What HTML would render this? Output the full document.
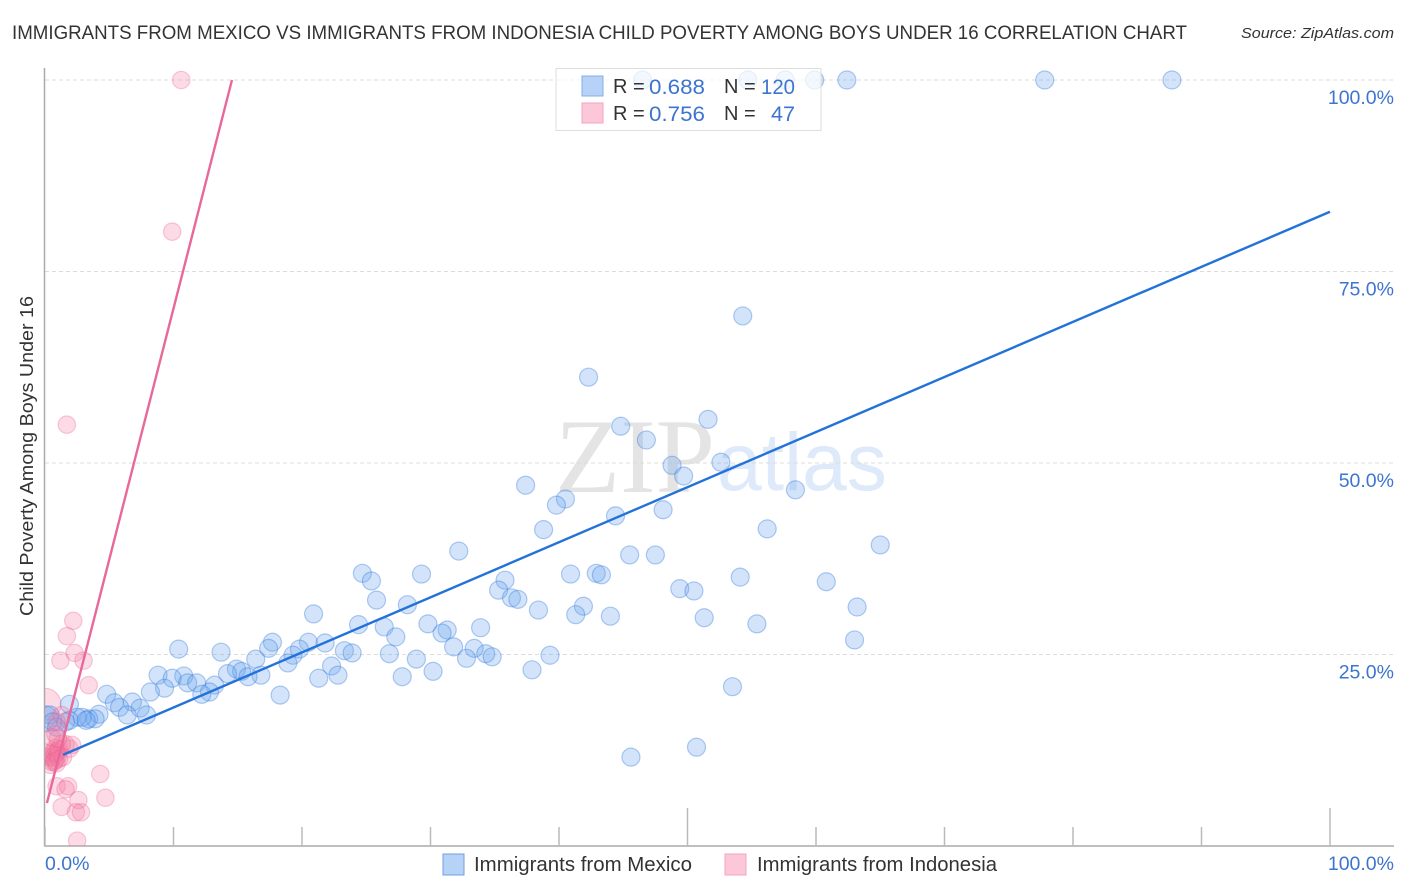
<!DOCTYPE html>
<html lang="en">
<head>
<meta charset="utf-8">
<title>Immigrants from Mexico vs Immigrants from Indonesia Correlation Chart</title>
<style>
html,body{margin:0;padding:0;background:#fff;}
svg{display:block;font-family:"Liberation Sans",sans-serif;}
</style>
</head>
<body>
<svg id="chart" xmlns="http://www.w3.org/2000/svg" width="1406" height="892" viewBox="0 0 1406 892">
  <defs>
    <clipPath id="plot-clip"><rect x="45" y="60" width="1349" height="786"/></clipPath>
  </defs>
  <rect x="0" y="0" width="1406" height="892" fill="#ffffff"/>
  <text x="12" y="39" font-size="19.5" fill="#333333" textLength="1175" lengthAdjust="spacingAndGlyphs">IMMIGRANTS FROM MEXICO VS IMMIGRANTS FROM INDONESIA CHILD POVERTY AMONG BOYS UNDER 16 CORRELATION CHART</text>
  <text x="1241" y="38" font-size="15" font-style="italic" fill="#333333" textLength="153" lengthAdjust="spacingAndGlyphs">Source: ZipAtlas.com</text>
  <text x="555" y="492" font-size="106" font-family="'Liberation Serif',serif" fill="#e4e4e4" textLength="160" lengthAdjust="spacingAndGlyphs">ZIP</text>
  <text x="717" y="490" font-size="82" font-family="'Liberation Sans',sans-serif" fill="#deE9fa" textLength="170" lengthAdjust="spacingAndGlyphs">atlas</text>
  <g id="grid-layer"></g>
  <g id="axis-layer"></g>
  <g id="point-layer" clip-path="url(#plot-clip)"></g>
  <g id="trend-layer"></g>
  <text transform="translate(33,456) rotate(-90)" text-anchor="middle" font-size="18" fill="#333333" textLength="320" lengthAdjust="spacingAndGlyphs">Child Poverty Among Boys Under 16</text>

  <g>
    <rect x="556" y="68.5" width="265" height="62" fill="#ffffff" fill-opacity="0.72" stroke="#dddddd" stroke-width="1"/>
    <rect x="582" y="76" width="21" height="20" fill="#b6d2f7" stroke="#85afe9" stroke-width="1"/>
    <rect x="582" y="103" width="21" height="20" fill="#fcc8d9" stroke="#f2a5bd" stroke-width="1"/>
    <text x="613" y="93" font-size="20" fill="#333333">R =</text>
    <text x="649" y="94" font-size="21.5" fill="#3d74d0" textLength="56" lengthAdjust="spacingAndGlyphs">0.688</text>
    <text x="724" y="93" font-size="20" fill="#333333">N =</text>
    <text x="761" y="94" font-size="21.5" fill="#3d74d0" textLength="34" lengthAdjust="spacingAndGlyphs">120</text>
    <text x="613" y="120" font-size="20" fill="#333333">R =</text>
    <text x="649" y="121" font-size="21.5" fill="#3d74d0" textLength="56" lengthAdjust="spacingAndGlyphs">0.756</text>
    <text x="724" y="120" font-size="20" fill="#333333">N =</text>
    <text x="771" y="121" font-size="21.5" fill="#3d74d0" textLength="24" lengthAdjust="spacingAndGlyphs">47</text>
  </g>

  <g>
    <rect x="443" y="854" width="21" height="21" fill="#b6d2f7" stroke="#6fa0e4" stroke-width="1"/>
    <text x="474" y="871" font-size="20" fill="#333333" textLength="218" lengthAdjust="spacingAndGlyphs">Immigrants from Mexico</text>
    <rect x="725" y="854" width="21" height="21" fill="#fcc8d9" stroke="#f2a5bd" stroke-width="1"/>
    <text x="757" y="871" font-size="20" fill="#333333" textLength="240" lengthAdjust="spacingAndGlyphs">Immigrants from Indonesia</text>
  </g>
</svg>

<script>
var xTickValues = [0, 10, 20, 30, 40, 50, 60, 70, 80, 90, 100];
var yTickValues = [25, 50, 75, 100];
var yTickLabels = ['25.0%', '50.0%', '75.0%', '100.0%'];
var xEndLabels = ['0.0%', '100.0%'];
var xEndValues = [0, 100];

var mexicoX = [46.5,54.7,57.6,59.9,62.4,77.8,87.7,
  54.3,42.3,51.6,44.8,46.8,48.8,52.6,49.7,37.4,58.4,40.5,39.8,48.1,44.4,
  38.8,56.2,65.0,32.2,45.5,47.5,24.7,29.3,40.9,42.9,43.3,54.1,25.4,35.8,60.8,
  35.3,49.4,50.5,25.8,36.3,36.8,28.2,41.9,63.2,38.4,20.9,41.3,44.0,51.3,29.8,
  24.4,26.4,55.4,33.9,31.3,30.9,27.3,63.0,20.5,21.8,17.7,17.4,10.4,19.8,23.3,
  13.7,23.9,26.8,31.8,33.4,34.3,39.3,34.8,32.8,19.3,16.4,28.9,18.9,22.3,14.9,
  30.2,15.3,37.9,8.8,22.8,21.3,27.8,16.8,15.8,14.2,10.8,9.9,11.1,11.8,13.2,
  9.3,53.5,8.2,12.8,12.2,18.3,4.8,6.8,5.4,5.8,1.9,7.4,6.4,7.9,4.2,
  3.4,3.9,2.9,2.5,1.9,3.2,1.6,0.4,0.6,0.9,45.6,50.7];
var mexicoY = [100,100,100,100,100,100,100,
  69.2,61.2,55.7,54.8,53.0,49.7,50.1,48.3,47.1,46.5,45.3,44.5,43.9,43.1,
  41.3,41.4,39.3,38.5,38.0,38.0,35.6,35.5,35.5,35.6,35.4,35.1,34.6,34.7,34.5,
  33.4,33.6,33.3,32.1,32.4,32.2,31.5,31.3,31.2,30.8,30.3,30.2,30.0,29.8,29.0,
  28.9,28.6,29.0,28.5,28.2,27.8,27.3,26.9,26.6,26.5,26.6,25.8,25.7,25.7,25.5,
  25.3,25.2,25.1,26.0,25.8,25.1,24.9,24.7,24.5,24.9,24.4,24.4,23.9,23.5,23.1,
  22.8,22.8,23.0,22.3,22.3,21.9,22.1,22.3,22.1,22.5,22.2,21.9,21.3,21.3,21.0,
  20.6,20.8,20.1,20.1,19.8,19.7,19.8,18.8,18.7,18.1,18.5,18.0,17.1,17.1,17.2,
  16.6,16.6,16.8,16.8,16.4,16.4,16.2,17.1,16.2,15.5,11.6,12.9];
var mexicoLargeX = [0.0];
var mexicoLargeY = [16.6];

var indonesiaX = [10.6,9.9,1.7,2.2,1.7,2.3,1.2,3.0,3.4,4.3,4.7,0.9,1.8,1.6,2.6,1.3,2.4,2.8,2.5,
  0.4,0.5,0.8,0.3,0.4,0.6,0.8,0.9,0.7,1.0,1.1,1.9,1.6,2.1,1.3,0.8,0.4,1.0,1.1,0.9,0.7,1.4,
  0.9,1.3,0.5,0.8,1.0];
var indonesiaY = [100,80.2,55.0,29.4,27.4,25.2,24.2,24.2,21.0,9.4,6.3,7.8,7.8,7.4,6.0,5.1,4.4,4.4,0.7,
  10.6,11.0,11.2,11.6,11.9,11.6,12.0,12.2,12.3,12.3,12.6,12.7,13.3,13.2,13.3,12.8,12.2,11.8,11.4,10.8,11.0,11.6,
  16.2,17.1,14.2,14.6,14.0];
var indonesiaLargeX = [0.0];
var indonesiaLargeY = [18.5];

var mexicoTrendX = [1.4, 100];
var mexicoTrendY = [11.9, 82.8];
var indonesiaTrendX = [0.15, 14.55];
var indonesiaTrendY = [5.6, 100];

var NS = 'http://www.w3.org/2000/svg';
function xScale(v) { return 45 + v * 12.85; }
function yScale(v) { return 846 - v * 7.66; }
function make(tag, parent, attrs) {
  var el = document.createElementNS(NS, tag);
  for (var k in attrs) { el.setAttribute(k, attrs[k]); }
  parent.appendChild(el);
  return el;
}

var gridLayer = document.getElementById('grid-layer');
var axisLayer = document.getElementById('axis-layer');
var pointLayer = document.getElementById('point-layer');
var trendLayer = document.getElementById('trend-layer');

yTickValues.forEach(function (v, i) {
  var g = make('line', gridLayer, {x1: 45, x2: 1394, y1: yScale(v), y2: yScale(v), stroke: '#dcdcdc', 'stroke-width': 1, 'stroke-dasharray': '4 3'});
  
  
  var t = make('text', axisLayer, {x: 1394, y: yScale(v) + 24, 'text-anchor': 'end', 'font-size': 19.5, fill: '#3d74d0'});
  t.textContent = yTickLabels[i];
  
  
});

var yAxisLine = make('line', axisLayer, {x1: 44.5, x2: 44.5, y1: 68, y2: 846, stroke: '#aaaaaa', 'stroke-width': 1.5});


var xAxisLine = make('line', axisLayer, {x1: 44, x2: 1394, y1: 846, y2: 846, stroke: '#aaaaaa', 'stroke-width': 1.5});



xTickValues.forEach(function (v) {
  var major = v === 50 || v === 100;
  var tick = make('line', axisLayer, {x1: xScale(v), x2: xScale(v), y1: major ? 808 : 827, y2: 846, stroke: '#bbbbbb', 'stroke-width': 1.5});
  
  
});

xEndLabels.forEach(function (label, i) {
  var t = make('text', axisLayer, {x: i === 0 ? xScale(xEndValues[i]) : 1394, y: 870, 'text-anchor': i === 0 ? 'start' : 'end', 'font-size': 19.5, fill: '#3d74d0'});
  t.textContent = label;
  
  
});

function drawPoints(xs, ys, radius, fill, stroke) {
  xs.forEach(function (x, i) {
    var c = make('circle', pointLayer, {cx: xScale(x), cy: yScale(ys[i]), r: radius, fill: fill, stroke: stroke, 'stroke-width': 1.2});
    
    
  });
}
var blueFill = 'rgba(110,165,240,0.30)', blueStroke = 'rgba(50,120,220,0.38)';
var pinkFill = 'rgba(245,125,165,0.28)', pinkStroke = 'rgba(235,90,135,0.30)';
drawPoints(indonesiaLargeX, indonesiaLargeY, 16, pinkFill, pinkStroke);
drawPoints(mexicoLargeX, mexicoLargeY, 13, blueFill, blueStroke);
drawPoints(mexicoX, mexicoY, 9, blueFill, blueStroke);
drawPoints(indonesiaX, indonesiaY, 8.7, pinkFill, pinkStroke);

var blueTrend = make('line', trendLayer, {x1: xScale(mexicoTrendX[0]), y1: yScale(mexicoTrendY[0]), x2: xScale(mexicoTrendX[1]), y2: yScale(mexicoTrendY[1]), stroke: '#2272d9', 'stroke-width': 2.4});


var pinkTrend = make('line', trendLayer, {x1: xScale(indonesiaTrendX[0]), y1: yScale(indonesiaTrendY[0]), x2: xScale(indonesiaTrendX[1]), y2: yScale(indonesiaTrendY[1]), stroke: '#e8689a', 'stroke-width': 2.4});


</script>
</body>
</html>
